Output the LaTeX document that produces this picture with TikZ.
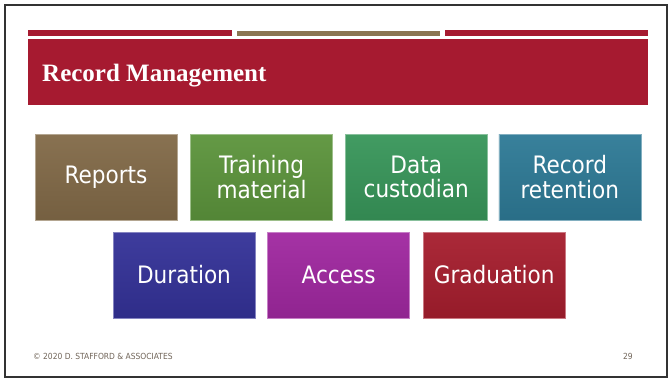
\documentclass[tikz,border=0pt]{standalone}
\usepackage{fontspec}
\setmainfont{Liberation Serif}
\newfontfamily\tilefont{DejaVu Sans Condensed}
\usetikzlibrary{positioning}
\definecolor{slideRed}{RGB}{166,26,48}
\definecolor{slideTan}{RGB}{139,117,82}
\definecolor{footGray}{RGB}{112,100,88}
\definecolor{cReports}{RGB}{130,106,72}
\definecolor{cTraining}{RGB}{92,148,60}
\definecolor{cData}{RGB}{56,150,90}
\definecolor{cRetention}{RGB}{46,122,150}
\definecolor{cDuration}{RGB}{52,50,152}
\definecolor{cAccess}{RGB}{160,40,160}
\definecolor{cGrad}{RGB}{166,30,46}

\tikzset{
  tile/.style={minimum width=142pt, minimum height=86pt, inner sep=0pt,
    top color=#1!95!white, bottom color=#1!90!black, draw=#1!60!white, line width=0.6pt,
    text=white, align=center, font=\tilefont\fontsize{24}{24.5}\selectfont}
}

\begin{document}
\begin{tikzpicture}[x=1pt, y=-1pt]
				\useasboundingbox (0,0) rectangle (670,380);
				% slide frame
				\draw[line width=2pt, black!80] (5,5) rectangle (667,377);
				% top bars
				\fill[slideRed] (28,30) rectangle (232,36);
				\fill[slideTan] (237,31) rectangle (440,36);
				\fill[slideRed] (445,30) rectangle (648,36);
				% title band
				\fill[slideRed] (28,39) rectangle (648,105);
				\node[anchor=base west, inner sep=0pt, text=white, font=\bfseries\fontsize{25}{27}\selectfont] (title) at (42,81) {Record Management};
				% first row
				\node[tile=cReports] (reports) at (106,177) {Reports};
				\node[tile=cTraining, right=13pt of reports] (training) {Training\\material};
				\node[tile=cData, right=12pt of training] (custodian) {Data\\custodian};
				\node[tile=cRetention, right=11pt of custodian] (retention) {Record\\retention};
				% second row
				\node[tile=cDuration] (duration) at (184,275) {Duration};
				\node[tile=cAccess, right=12pt of duration] (access) {Access};
				\node[tile=cGrad, right=13pt of access] (graduation) {Graduation};
				% footer
				\node[anchor=base west, text=footGray, font=\tilefont\fontsize{8.4}{9}\selectfont, inner sep=0pt] (copyright) at (33,359) {© 2020 D. STAFFORD \& ASSOCIATES};
				\node[anchor=base east, text=footGray, font=\tilefont\fontsize{8.4}{9}\selectfont, inner sep=0pt] (pagenum) at (633,359) {29};
			\end{tikzpicture}
\end{document}
